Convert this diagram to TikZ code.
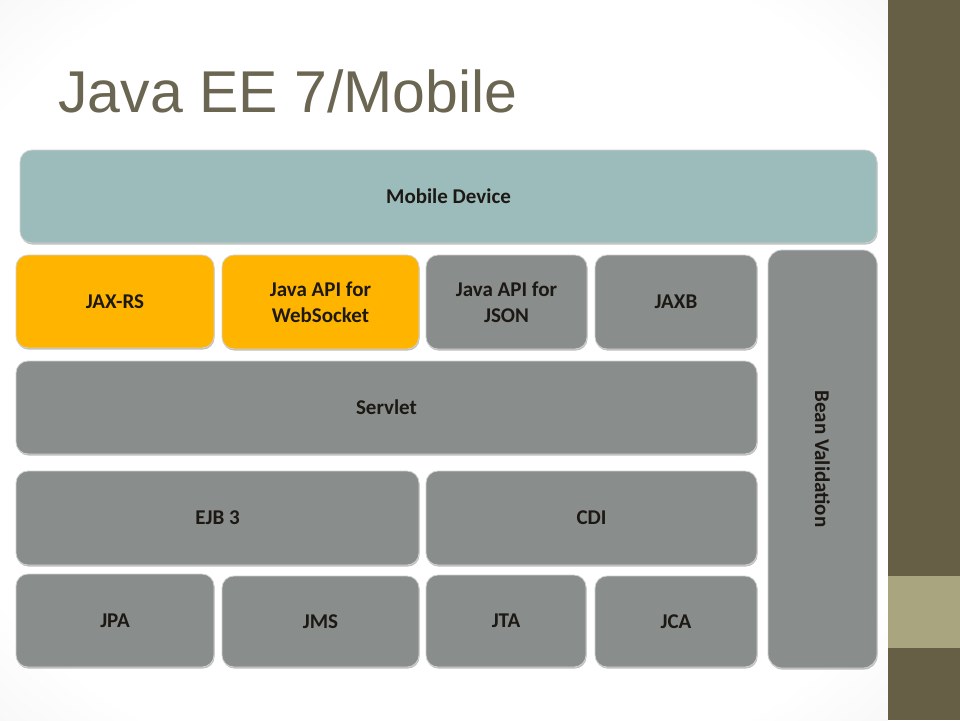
\documentclass[tikz,border=0pt]{standalone}
\usepackage{fontspec}
\setmainfont{Carlito}
\newfontfamily\titlefont{Liberation Sans}
\usetikzlibrary{shadows}
\definecolor{bandDark}{RGB}{103,95,69}
\definecolor{bandLight}{RGB}{169,166,127}
\definecolor{titleCol}{RGB}{107,102,82}
\definecolor{boxGray}{RGB}{137,141,139}
\definecolor{boxOrange}{RGB}{255,181,0}
\definecolor{boxTeal}{RGB}{155,188,186}
\definecolor{txtCol}{RGB}{28,24,20}
\pgfdeclareradialshading{vign}{\pgfpoint{0bp}{0bp}}{color(0bp)=(white); color(30bp)=(white); color(50bp)=(black!10); color(60bp)=(black!16)}
\tikzset{
  blk/.style={rectangle, rounded corners=12pt, inner sep=0pt, outer sep=0pt,
    draw=black!18, line width=0.8pt, text=txtCol, align=center,
    font=\bfseries\fontsize{21}{26}\selectfont,
    drop shadow={shadow xshift=0.6pt, shadow yshift=-1.6pt, opacity=0.25, fill=black}},
  grayblk/.style={blk, fill=boxGray},
  orangeblk/.style={blk, fill=boxOrange},
  tealblk/.style={blk, fill=boxTeal},
}
\newcommand\blk[7]{\node[#1, minimum width=#5pt-#3pt, minimum height=#6pt-#4pt] (#2) at ({(#3+#5)/2},{(#4+#6)/2}) {#7};}
\begin{document}
\begin{tikzpicture}[x=1pt,y=-1pt]
\useasboundingbox (0,0) rectangle (960,720);
\shade[shading=vign] (0,0) rectangle (888,720);
\fill[bandDark] (888,0) rectangle (960,720);
\fill[bandLight] (888,576) rectangle (960,648);
\node[anchor=base west, inner sep=0pt, text=titleCol, font=\titlefont\fontsize{59}{60}\selectfont] (title) at (58,112) {Java EE 7/Mobile};
\blk{tealblk}{mobile}{20}{150}{877}{243}{Mobile Device}
\blk{orangeblk}{jaxrs}{16}{255}{214}{348}{JAX-RS}
\blk{orangeblk}{websocket}{222}{255}{419}{349}{Java API for\\WebSocket}
\blk{grayblk}{json}{426}{255}{587}{349}{Java API for\\JSON}
\blk{grayblk}{jaxb}{595}{255}{757}{349}{JAXB}
\blk{grayblk}{servlet}{16}{361}{757}{454}{Servlet}
\blk{grayblk}{ejb}{16}{471}{419}{565}{EJB 3}
\blk{grayblk}{cdi}{426}{471}{757}{565}{CDI}
\blk{grayblk}{jpa}{16}{574}{214}{667}{JPA}
\blk{grayblk}{jms}{222}{576}{419}{667}{JMS}
\blk{grayblk}{jta}{426}{575}{586}{667}{JTA}
\blk{grayblk}{jca}{595}{576}{757}{667}{JCA}
\node[grayblk, rounded corners=14pt, minimum width=109pt, minimum height=418pt] (bean) at (822.5,459) {};
\node[text=txtCol, font=\bfseries\fontsize{21}{26}\selectfont, rotate=-90, inner sep=0pt] (beantext) at (bean.center) {Bean Validation};
\end{tikzpicture}
\end{document}
